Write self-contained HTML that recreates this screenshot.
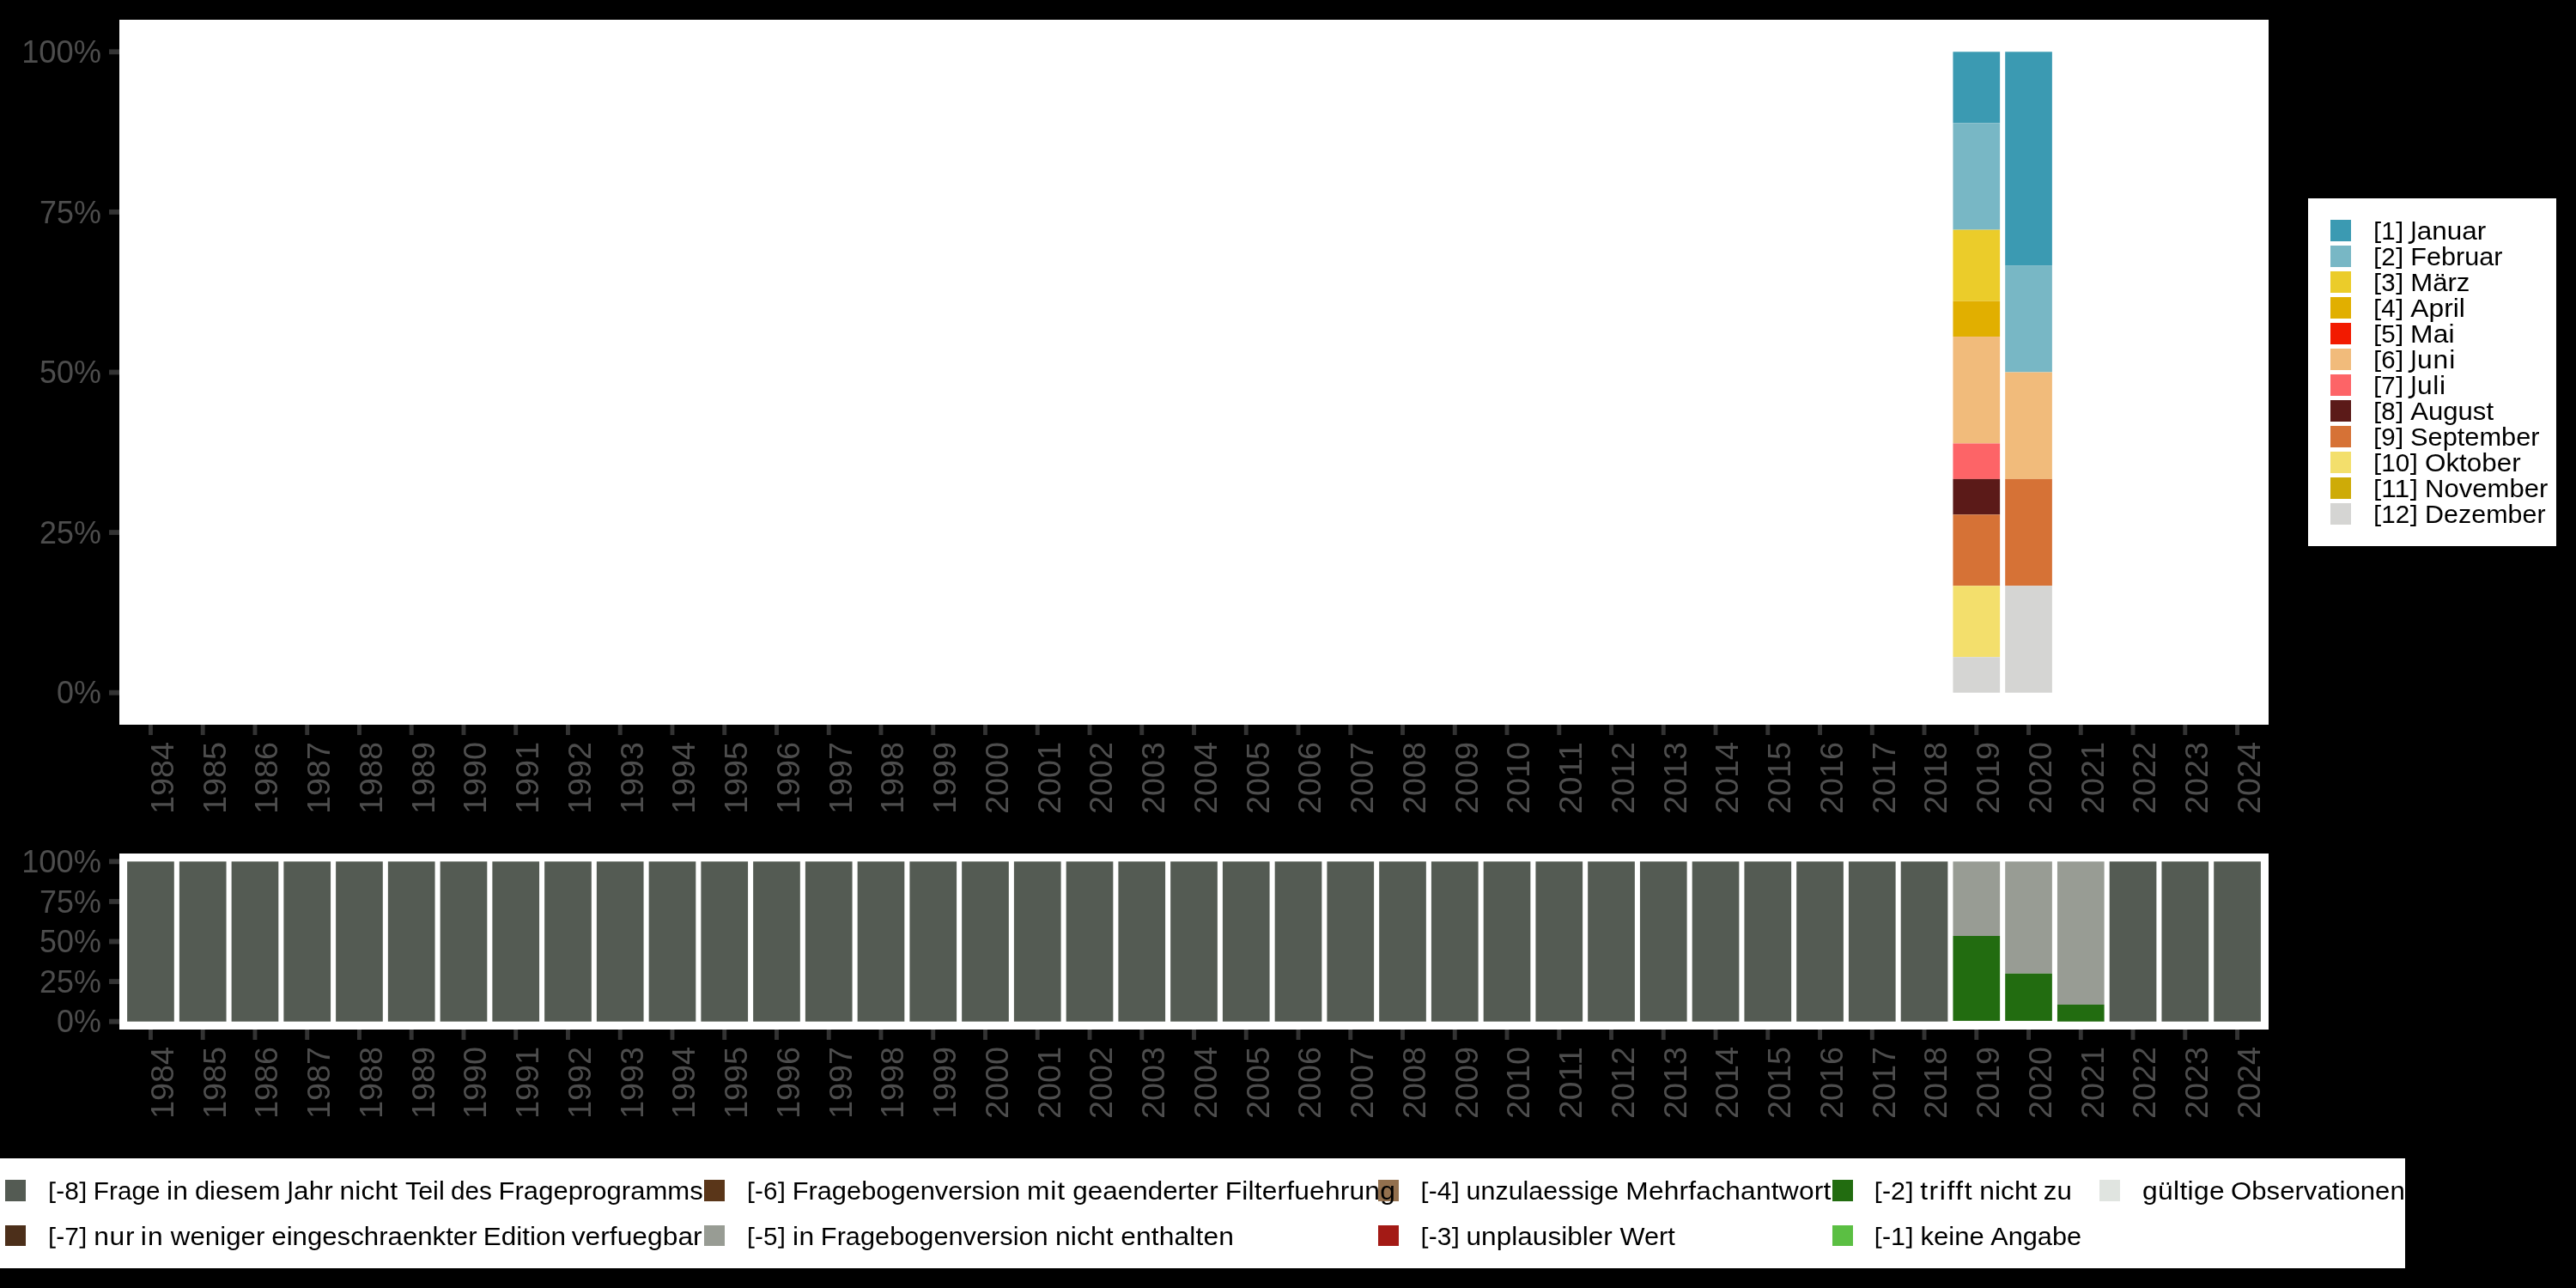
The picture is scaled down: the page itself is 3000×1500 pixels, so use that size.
<!DOCTYPE html>
<html><head><meta charset="utf-8"><title>chart</title>
<style>html,body{margin:0;padding:0;background:#000;overflow:hidden;}svg{display:block;will-change:transform}text{font-family:"Liberation Sans",sans-serif;}</style></head><body>
<svg width="3000" height="1500" viewBox="0 0 3000 1500">
<rect x="0" y="0" width="3000" height="1500" fill="#000"/>
<rect x="139" y="23" width="2503" height="821" fill="#fff"/>
<rect x="139" y="994" width="2503" height="205" fill="#fff"/>
<rect x="2274.45" y="60.32" width="54.68" height="82.93" fill="#3B9AB2"/>
<rect x="2274.45" y="143.25" width="54.68" height="124.39" fill="#78B7C5"/>
<rect x="2274.45" y="267.64" width="54.68" height="82.93" fill="#EBCC2A"/>
<rect x="2274.45" y="350.57" width="54.68" height="41.46" fill="#E1AF00"/>
<rect x="2274.45" y="392.04" width="54.68" height="124.39" fill="#F1BB7B"/>
<rect x="2274.45" y="516.43" width="54.68" height="41.46" fill="#FD6467"/>
<rect x="2274.45" y="557.89" width="54.68" height="41.46" fill="#5B1A18"/>
<rect x="2274.45" y="599.36" width="54.68" height="82.93" fill="#D67236"/>
<rect x="2274.45" y="682.29" width="54.68" height="82.93" fill="#F3DF6C"/>
<rect x="2274.45" y="765.22" width="54.68" height="41.46" fill="#D5D5D3"/>
<rect x="2335.20" y="60.32" width="54.68" height="248.79" fill="#3B9AB2"/>
<rect x="2335.20" y="309.11" width="54.68" height="124.39" fill="#78B7C5"/>
<rect x="2335.20" y="433.50" width="54.68" height="124.39" fill="#F1BB7B"/>
<rect x="2335.20" y="557.89" width="54.68" height="124.39" fill="#D67236"/>
<rect x="2335.20" y="682.29" width="54.68" height="124.39" fill="#D5D5D3"/>
<rect x="148.11" y="1003.32" width="54.68" height="186.36" fill="#545B53"/>
<rect x="208.87" y="1003.32" width="54.68" height="186.36" fill="#545B53"/>
<rect x="269.62" y="1003.32" width="54.68" height="186.36" fill="#545B53"/>
<rect x="330.37" y="1003.32" width="54.68" height="186.36" fill="#545B53"/>
<rect x="391.12" y="1003.32" width="54.68" height="186.36" fill="#545B53"/>
<rect x="451.87" y="1003.32" width="54.68" height="186.36" fill="#545B53"/>
<rect x="512.63" y="1003.32" width="54.68" height="186.36" fill="#545B53"/>
<rect x="573.38" y="1003.32" width="54.68" height="186.36" fill="#545B53"/>
<rect x="634.13" y="1003.32" width="54.68" height="186.36" fill="#545B53"/>
<rect x="694.88" y="1003.32" width="54.68" height="186.36" fill="#545B53"/>
<rect x="755.64" y="1003.32" width="54.68" height="186.36" fill="#545B53"/>
<rect x="816.39" y="1003.32" width="54.68" height="186.36" fill="#545B53"/>
<rect x="877.14" y="1003.32" width="54.68" height="186.36" fill="#545B53"/>
<rect x="937.89" y="1003.32" width="54.68" height="186.36" fill="#545B53"/>
<rect x="998.65" y="1003.32" width="54.68" height="186.36" fill="#545B53"/>
<rect x="1059.40" y="1003.32" width="54.68" height="186.36" fill="#545B53"/>
<rect x="1120.15" y="1003.32" width="54.68" height="186.36" fill="#545B53"/>
<rect x="1180.90" y="1003.32" width="54.68" height="186.36" fill="#545B53"/>
<rect x="1241.66" y="1003.32" width="54.68" height="186.36" fill="#545B53"/>
<rect x="1302.41" y="1003.32" width="54.68" height="186.36" fill="#545B53"/>
<rect x="1363.16" y="1003.32" width="54.68" height="186.36" fill="#545B53"/>
<rect x="1423.91" y="1003.32" width="54.68" height="186.36" fill="#545B53"/>
<rect x="1484.67" y="1003.32" width="54.68" height="186.36" fill="#545B53"/>
<rect x="1545.42" y="1003.32" width="54.68" height="186.36" fill="#545B53"/>
<rect x="1606.17" y="1003.32" width="54.68" height="186.36" fill="#545B53"/>
<rect x="1666.92" y="1003.32" width="54.68" height="186.36" fill="#545B53"/>
<rect x="1727.68" y="1003.32" width="54.68" height="186.36" fill="#545B53"/>
<rect x="1788.43" y="1003.32" width="54.68" height="186.36" fill="#545B53"/>
<rect x="1849.18" y="1003.32" width="54.68" height="186.36" fill="#545B53"/>
<rect x="1909.93" y="1003.32" width="54.68" height="186.36" fill="#545B53"/>
<rect x="1970.69" y="1003.32" width="54.68" height="186.36" fill="#545B53"/>
<rect x="2031.44" y="1003.32" width="54.68" height="186.36" fill="#545B53"/>
<rect x="2092.19" y="1003.32" width="54.68" height="186.36" fill="#545B53"/>
<rect x="2152.94" y="1003.32" width="54.68" height="186.36" fill="#545B53"/>
<rect x="2213.70" y="1003.32" width="54.68" height="186.36" fill="#545B53"/>
<rect x="2274.45" y="1003.32" width="54.68" height="86.66" fill="#989C94"/>
<rect x="2274.45" y="1089.98" width="54.68" height="98.90" fill="#226C10"/>
<rect x="2335.20" y="1003.32" width="54.68" height="130.45" fill="#989C94"/>
<rect x="2335.20" y="1133.77" width="54.68" height="55.11" fill="#226C10"/>
<rect x="2395.95" y="1003.32" width="54.68" height="166.61" fill="#989C94"/>
<rect x="2395.95" y="1169.93" width="54.68" height="19.75" fill="#226C10"/>
<rect x="2456.71" y="1003.32" width="54.68" height="186.36" fill="#545B53"/>
<rect x="2517.46" y="1003.32" width="54.68" height="186.36" fill="#545B53"/>
<rect x="2578.21" y="1003.32" width="54.68" height="186.36" fill="#545B53"/>
<g stroke="#333333" stroke-width="5.9" fill="none">
<line x1="127" x2="139" y1="806.68" y2="806.68"/>
<line x1="127" x2="139" y1="1189.68" y2="1189.68"/>
<line x1="127" x2="139" y1="620.09" y2="620.09"/>
<line x1="127" x2="139" y1="1143.09" y2="1143.09"/>
<line x1="127" x2="139" y1="433.50" y2="433.50"/>
<line x1="127" x2="139" y1="1096.50" y2="1096.50"/>
<line x1="127" x2="139" y1="246.91" y2="246.91"/>
<line x1="127" x2="139" y1="1049.91" y2="1049.91"/>
<line x1="127" x2="139" y1="60.32" y2="60.32"/>
<line x1="127" x2="139" y1="1003.32" y2="1003.32"/>
</g>
<g stroke="#333333" stroke-width="4.9" fill="none">
<line x1="175.45" x2="175.45" y1="844" y2="856"/>
<line x1="175.45" x2="175.45" y1="1199" y2="1211"/>
<line x1="236.20" x2="236.20" y1="844" y2="856"/>
<line x1="236.20" x2="236.20" y1="1199" y2="1211"/>
<line x1="296.96" x2="296.96" y1="844" y2="856"/>
<line x1="296.96" x2="296.96" y1="1199" y2="1211"/>
<line x1="357.71" x2="357.71" y1="844" y2="856"/>
<line x1="357.71" x2="357.71" y1="1199" y2="1211"/>
<line x1="418.46" x2="418.46" y1="844" y2="856"/>
<line x1="418.46" x2="418.46" y1="1199" y2="1211"/>
<line x1="479.21" x2="479.21" y1="844" y2="856"/>
<line x1="479.21" x2="479.21" y1="1199" y2="1211"/>
<line x1="539.97" x2="539.97" y1="844" y2="856"/>
<line x1="539.97" x2="539.97" y1="1199" y2="1211"/>
<line x1="600.72" x2="600.72" y1="844" y2="856"/>
<line x1="600.72" x2="600.72" y1="1199" y2="1211"/>
<line x1="661.47" x2="661.47" y1="844" y2="856"/>
<line x1="661.47" x2="661.47" y1="1199" y2="1211"/>
<line x1="722.22" x2="722.22" y1="844" y2="856"/>
<line x1="722.22" x2="722.22" y1="1199" y2="1211"/>
<line x1="782.98" x2="782.98" y1="844" y2="856"/>
<line x1="782.98" x2="782.98" y1="1199" y2="1211"/>
<line x1="843.73" x2="843.73" y1="844" y2="856"/>
<line x1="843.73" x2="843.73" y1="1199" y2="1211"/>
<line x1="904.48" x2="904.48" y1="844" y2="856"/>
<line x1="904.48" x2="904.48" y1="1199" y2="1211"/>
<line x1="965.23" x2="965.23" y1="844" y2="856"/>
<line x1="965.23" x2="965.23" y1="1199" y2="1211"/>
<line x1="1025.99" x2="1025.99" y1="844" y2="856"/>
<line x1="1025.99" x2="1025.99" y1="1199" y2="1211"/>
<line x1="1086.74" x2="1086.74" y1="844" y2="856"/>
<line x1="1086.74" x2="1086.74" y1="1199" y2="1211"/>
<line x1="1147.49" x2="1147.49" y1="844" y2="856"/>
<line x1="1147.49" x2="1147.49" y1="1199" y2="1211"/>
<line x1="1208.24" x2="1208.24" y1="844" y2="856"/>
<line x1="1208.24" x2="1208.24" y1="1199" y2="1211"/>
<line x1="1269.00" x2="1269.00" y1="844" y2="856"/>
<line x1="1269.00" x2="1269.00" y1="1199" y2="1211"/>
<line x1="1329.75" x2="1329.75" y1="844" y2="856"/>
<line x1="1329.75" x2="1329.75" y1="1199" y2="1211"/>
<line x1="1390.50" x2="1390.50" y1="844" y2="856"/>
<line x1="1390.50" x2="1390.50" y1="1199" y2="1211"/>
<line x1="1451.25" x2="1451.25" y1="844" y2="856"/>
<line x1="1451.25" x2="1451.25" y1="1199" y2="1211"/>
<line x1="1512.00" x2="1512.00" y1="844" y2="856"/>
<line x1="1512.00" x2="1512.00" y1="1199" y2="1211"/>
<line x1="1572.76" x2="1572.76" y1="844" y2="856"/>
<line x1="1572.76" x2="1572.76" y1="1199" y2="1211"/>
<line x1="1633.51" x2="1633.51" y1="844" y2="856"/>
<line x1="1633.51" x2="1633.51" y1="1199" y2="1211"/>
<line x1="1694.26" x2="1694.26" y1="844" y2="856"/>
<line x1="1694.26" x2="1694.26" y1="1199" y2="1211"/>
<line x1="1755.01" x2="1755.01" y1="844" y2="856"/>
<line x1="1755.01" x2="1755.01" y1="1199" y2="1211"/>
<line x1="1815.77" x2="1815.77" y1="844" y2="856"/>
<line x1="1815.77" x2="1815.77" y1="1199" y2="1211"/>
<line x1="1876.52" x2="1876.52" y1="844" y2="856"/>
<line x1="1876.52" x2="1876.52" y1="1199" y2="1211"/>
<line x1="1937.27" x2="1937.27" y1="844" y2="856"/>
<line x1="1937.27" x2="1937.27" y1="1199" y2="1211"/>
<line x1="1998.02" x2="1998.02" y1="844" y2="856"/>
<line x1="1998.02" x2="1998.02" y1="1199" y2="1211"/>
<line x1="2058.78" x2="2058.78" y1="844" y2="856"/>
<line x1="2058.78" x2="2058.78" y1="1199" y2="1211"/>
<line x1="2119.53" x2="2119.53" y1="844" y2="856"/>
<line x1="2119.53" x2="2119.53" y1="1199" y2="1211"/>
<line x1="2180.28" x2="2180.28" y1="844" y2="856"/>
<line x1="2180.28" x2="2180.28" y1="1199" y2="1211"/>
<line x1="2241.03" x2="2241.03" y1="844" y2="856"/>
<line x1="2241.03" x2="2241.03" y1="1199" y2="1211"/>
<line x1="2301.79" x2="2301.79" y1="844" y2="856"/>
<line x1="2301.79" x2="2301.79" y1="1199" y2="1211"/>
<line x1="2362.54" x2="2362.54" y1="844" y2="856"/>
<line x1="2362.54" x2="2362.54" y1="1199" y2="1211"/>
<line x1="2423.29" x2="2423.29" y1="844" y2="856"/>
<line x1="2423.29" x2="2423.29" y1="1199" y2="1211"/>
<line x1="2484.04" x2="2484.04" y1="844" y2="856"/>
<line x1="2484.04" x2="2484.04" y1="1199" y2="1211"/>
<line x1="2544.80" x2="2544.80" y1="844" y2="856"/>
<line x1="2544.80" x2="2544.80" y1="1199" y2="1211"/>
<line x1="2605.55" x2="2605.55" y1="844" y2="856"/>
<line x1="2605.55" x2="2605.55" y1="1199" y2="1211"/>
</g>
<g fill="#4D4D4D" font-size="36.67px" text-anchor="end">
<text x="118" y="819.28" textLength="51.9" lengthAdjust="spacingAndGlyphs">0%</text>
<text x="118" y="1202.28" textLength="51.9" lengthAdjust="spacingAndGlyphs">0%</text>
<text x="118" y="632.69" textLength="71.9" lengthAdjust="spacingAndGlyphs">25%</text>
<text x="118" y="1155.69" textLength="71.9" lengthAdjust="spacingAndGlyphs">25%</text>
<text x="118" y="446.10" textLength="71.9" lengthAdjust="spacingAndGlyphs">50%</text>
<text x="118" y="1109.10" textLength="71.9" lengthAdjust="spacingAndGlyphs">50%</text>
<text x="118" y="259.51" textLength="71.9" lengthAdjust="spacingAndGlyphs">75%</text>
<text x="118" y="1062.51" textLength="71.9" lengthAdjust="spacingAndGlyphs">75%</text>
<text x="118" y="72.92" textLength="92.8" lengthAdjust="spacingAndGlyphs">100%</text>
<text x="118" y="1015.92" textLength="92.8" lengthAdjust="spacingAndGlyphs">100%</text>
<text transform="translate(201.75,864.00) rotate(-90)" textLength="83.9" lengthAdjust="spacingAndGlyphs">1984</text>
<text transform="translate(201.75,1219.00) rotate(-90)" textLength="83.9" lengthAdjust="spacingAndGlyphs">1984</text>
<text transform="translate(262.50,864.00) rotate(-90)" textLength="83.9" lengthAdjust="spacingAndGlyphs">1985</text>
<text transform="translate(262.50,1219.00) rotate(-90)" textLength="83.9" lengthAdjust="spacingAndGlyphs">1985</text>
<text transform="translate(323.26,864.00) rotate(-90)" textLength="83.9" lengthAdjust="spacingAndGlyphs">1986</text>
<text transform="translate(323.26,1219.00) rotate(-90)" textLength="83.9" lengthAdjust="spacingAndGlyphs">1986</text>
<text transform="translate(384.01,864.00) rotate(-90)" textLength="83.9" lengthAdjust="spacingAndGlyphs">1987</text>
<text transform="translate(384.01,1219.00) rotate(-90)" textLength="83.9" lengthAdjust="spacingAndGlyphs">1987</text>
<text transform="translate(444.76,864.00) rotate(-90)" textLength="83.9" lengthAdjust="spacingAndGlyphs">1988</text>
<text transform="translate(444.76,1219.00) rotate(-90)" textLength="83.9" lengthAdjust="spacingAndGlyphs">1988</text>
<text transform="translate(505.51,864.00) rotate(-90)" textLength="83.9" lengthAdjust="spacingAndGlyphs">1989</text>
<text transform="translate(505.51,1219.00) rotate(-90)" textLength="83.9" lengthAdjust="spacingAndGlyphs">1989</text>
<text transform="translate(566.27,864.00) rotate(-90)" textLength="83.9" lengthAdjust="spacingAndGlyphs">1990</text>
<text transform="translate(566.27,1219.00) rotate(-90)" textLength="83.9" lengthAdjust="spacingAndGlyphs">1990</text>
<text transform="translate(627.02,864.00) rotate(-90)" textLength="83.9" lengthAdjust="spacingAndGlyphs">1991</text>
<text transform="translate(627.02,1219.00) rotate(-90)" textLength="83.9" lengthAdjust="spacingAndGlyphs">1991</text>
<text transform="translate(687.77,864.00) rotate(-90)" textLength="83.9" lengthAdjust="spacingAndGlyphs">1992</text>
<text transform="translate(687.77,1219.00) rotate(-90)" textLength="83.9" lengthAdjust="spacingAndGlyphs">1992</text>
<text transform="translate(748.52,864.00) rotate(-90)" textLength="83.9" lengthAdjust="spacingAndGlyphs">1993</text>
<text transform="translate(748.52,1219.00) rotate(-90)" textLength="83.9" lengthAdjust="spacingAndGlyphs">1993</text>
<text transform="translate(809.28,864.00) rotate(-90)" textLength="83.9" lengthAdjust="spacingAndGlyphs">1994</text>
<text transform="translate(809.28,1219.00) rotate(-90)" textLength="83.9" lengthAdjust="spacingAndGlyphs">1994</text>
<text transform="translate(870.03,864.00) rotate(-90)" textLength="83.9" lengthAdjust="spacingAndGlyphs">1995</text>
<text transform="translate(870.03,1219.00) rotate(-90)" textLength="83.9" lengthAdjust="spacingAndGlyphs">1995</text>
<text transform="translate(930.78,864.00) rotate(-90)" textLength="83.9" lengthAdjust="spacingAndGlyphs">1996</text>
<text transform="translate(930.78,1219.00) rotate(-90)" textLength="83.9" lengthAdjust="spacingAndGlyphs">1996</text>
<text transform="translate(991.53,864.00) rotate(-90)" textLength="83.9" lengthAdjust="spacingAndGlyphs">1997</text>
<text transform="translate(991.53,1219.00) rotate(-90)" textLength="83.9" lengthAdjust="spacingAndGlyphs">1997</text>
<text transform="translate(1052.29,864.00) rotate(-90)" textLength="83.9" lengthAdjust="spacingAndGlyphs">1998</text>
<text transform="translate(1052.29,1219.00) rotate(-90)" textLength="83.9" lengthAdjust="spacingAndGlyphs">1998</text>
<text transform="translate(1113.04,864.00) rotate(-90)" textLength="83.9" lengthAdjust="spacingAndGlyphs">1999</text>
<text transform="translate(1113.04,1219.00) rotate(-90)" textLength="83.9" lengthAdjust="spacingAndGlyphs">1999</text>
<text transform="translate(1173.79,864.00) rotate(-90)" textLength="83.9" lengthAdjust="spacingAndGlyphs">2000</text>
<text transform="translate(1173.79,1219.00) rotate(-90)" textLength="83.9" lengthAdjust="spacingAndGlyphs">2000</text>
<text transform="translate(1234.54,864.00) rotate(-90)" textLength="83.9" lengthAdjust="spacingAndGlyphs">2001</text>
<text transform="translate(1234.54,1219.00) rotate(-90)" textLength="83.9" lengthAdjust="spacingAndGlyphs">2001</text>
<text transform="translate(1295.30,864.00) rotate(-90)" textLength="83.9" lengthAdjust="spacingAndGlyphs">2002</text>
<text transform="translate(1295.30,1219.00) rotate(-90)" textLength="83.9" lengthAdjust="spacingAndGlyphs">2002</text>
<text transform="translate(1356.05,864.00) rotate(-90)" textLength="83.9" lengthAdjust="spacingAndGlyphs">2003</text>
<text transform="translate(1356.05,1219.00) rotate(-90)" textLength="83.9" lengthAdjust="spacingAndGlyphs">2003</text>
<text transform="translate(1416.80,864.00) rotate(-90)" textLength="83.9" lengthAdjust="spacingAndGlyphs">2004</text>
<text transform="translate(1416.80,1219.00) rotate(-90)" textLength="83.9" lengthAdjust="spacingAndGlyphs">2004</text>
<text transform="translate(1477.55,864.00) rotate(-90)" textLength="83.9" lengthAdjust="spacingAndGlyphs">2005</text>
<text transform="translate(1477.55,1219.00) rotate(-90)" textLength="83.9" lengthAdjust="spacingAndGlyphs">2005</text>
<text transform="translate(1538.30,864.00) rotate(-90)" textLength="83.9" lengthAdjust="spacingAndGlyphs">2006</text>
<text transform="translate(1538.30,1219.00) rotate(-90)" textLength="83.9" lengthAdjust="spacingAndGlyphs">2006</text>
<text transform="translate(1599.06,864.00) rotate(-90)" textLength="83.9" lengthAdjust="spacingAndGlyphs">2007</text>
<text transform="translate(1599.06,1219.00) rotate(-90)" textLength="83.9" lengthAdjust="spacingAndGlyphs">2007</text>
<text transform="translate(1659.81,864.00) rotate(-90)" textLength="83.9" lengthAdjust="spacingAndGlyphs">2008</text>
<text transform="translate(1659.81,1219.00) rotate(-90)" textLength="83.9" lengthAdjust="spacingAndGlyphs">2008</text>
<text transform="translate(1720.56,864.00) rotate(-90)" textLength="83.9" lengthAdjust="spacingAndGlyphs">2009</text>
<text transform="translate(1720.56,1219.00) rotate(-90)" textLength="83.9" lengthAdjust="spacingAndGlyphs">2009</text>
<text transform="translate(1781.31,864.00) rotate(-90)" textLength="83.9" lengthAdjust="spacingAndGlyphs">2010</text>
<text transform="translate(1781.31,1219.00) rotate(-90)" textLength="83.9" lengthAdjust="spacingAndGlyphs">2010</text>
<text transform="translate(1842.07,864.00) rotate(-90)" textLength="83.9" lengthAdjust="spacingAndGlyphs">2011</text>
<text transform="translate(1842.07,1219.00) rotate(-90)" textLength="83.9" lengthAdjust="spacingAndGlyphs">2011</text>
<text transform="translate(1902.82,864.00) rotate(-90)" textLength="83.9" lengthAdjust="spacingAndGlyphs">2012</text>
<text transform="translate(1902.82,1219.00) rotate(-90)" textLength="83.9" lengthAdjust="spacingAndGlyphs">2012</text>
<text transform="translate(1963.57,864.00) rotate(-90)" textLength="83.9" lengthAdjust="spacingAndGlyphs">2013</text>
<text transform="translate(1963.57,1219.00) rotate(-90)" textLength="83.9" lengthAdjust="spacingAndGlyphs">2013</text>
<text transform="translate(2024.32,864.00) rotate(-90)" textLength="83.9" lengthAdjust="spacingAndGlyphs">2014</text>
<text transform="translate(2024.32,1219.00) rotate(-90)" textLength="83.9" lengthAdjust="spacingAndGlyphs">2014</text>
<text transform="translate(2085.08,864.00) rotate(-90)" textLength="83.9" lengthAdjust="spacingAndGlyphs">2015</text>
<text transform="translate(2085.08,1219.00) rotate(-90)" textLength="83.9" lengthAdjust="spacingAndGlyphs">2015</text>
<text transform="translate(2145.83,864.00) rotate(-90)" textLength="83.9" lengthAdjust="spacingAndGlyphs">2016</text>
<text transform="translate(2145.83,1219.00) rotate(-90)" textLength="83.9" lengthAdjust="spacingAndGlyphs">2016</text>
<text transform="translate(2206.58,864.00) rotate(-90)" textLength="83.9" lengthAdjust="spacingAndGlyphs">2017</text>
<text transform="translate(2206.58,1219.00) rotate(-90)" textLength="83.9" lengthAdjust="spacingAndGlyphs">2017</text>
<text transform="translate(2267.33,864.00) rotate(-90)" textLength="83.9" lengthAdjust="spacingAndGlyphs">2018</text>
<text transform="translate(2267.33,1219.00) rotate(-90)" textLength="83.9" lengthAdjust="spacingAndGlyphs">2018</text>
<text transform="translate(2328.09,864.00) rotate(-90)" textLength="83.9" lengthAdjust="spacingAndGlyphs">2019</text>
<text transform="translate(2328.09,1219.00) rotate(-90)" textLength="83.9" lengthAdjust="spacingAndGlyphs">2019</text>
<text transform="translate(2388.84,864.00) rotate(-90)" textLength="83.9" lengthAdjust="spacingAndGlyphs">2020</text>
<text transform="translate(2388.84,1219.00) rotate(-90)" textLength="83.9" lengthAdjust="spacingAndGlyphs">2020</text>
<text transform="translate(2449.59,864.00) rotate(-90)" textLength="83.9" lengthAdjust="spacingAndGlyphs">2021</text>
<text transform="translate(2449.59,1219.00) rotate(-90)" textLength="83.9" lengthAdjust="spacingAndGlyphs">2021</text>
<text transform="translate(2510.34,864.00) rotate(-90)" textLength="83.9" lengthAdjust="spacingAndGlyphs">2022</text>
<text transform="translate(2510.34,1219.00) rotate(-90)" textLength="83.9" lengthAdjust="spacingAndGlyphs">2022</text>
<text transform="translate(2571.10,864.00) rotate(-90)" textLength="83.9" lengthAdjust="spacingAndGlyphs">2023</text>
<text transform="translate(2571.10,1219.00) rotate(-90)" textLength="83.9" lengthAdjust="spacingAndGlyphs">2023</text>
<text transform="translate(2631.85,864.00) rotate(-90)" textLength="83.9" lengthAdjust="spacingAndGlyphs">2024</text>
<text transform="translate(2631.85,1219.00) rotate(-90)" textLength="83.9" lengthAdjust="spacingAndGlyphs">2024</text>
</g>
<rect x="2688" y="231" width="289" height="405" fill="#fff"/>
<g font-size="29.17px" fill="#000">
<rect x="2714" y="256" width="24" height="25" fill="#3B9AB2"/>
<path d="M2766.30,258.10h6.55v2.0h-4.10v20.90h4.10v2.0h-6.55z"/><path d="M2797.00,258.10h-6.55v2.0h4.10v20.90h-4.10v2.0h6.55z"/><text x="2773.30" y="278.90" textLength="16.40" lengthAdjust="spacingAndGlyphs">1</text><path d="M2811.00,258.00V277.90C2811.00,281.70 2808.80,282.70 2804.70,282.70" fill="none" stroke="#000" stroke-width="2.6"/><text x="2814.89" y="278.90" textLength="80.48" lengthAdjust="spacingAndGlyphs">anuar</text>
<rect x="2714" y="286" width="24" height="25" fill="#78B7C5"/>
<path d="M2766.30,288.10h6.55v2.0h-4.10v20.90h4.10v2.0h-6.55z"/><path d="M2797.00,288.10h-6.55v2.0h4.10v20.90h-4.10v2.0h6.55z"/><text x="2773.30" y="308.90" textLength="16.40" lengthAdjust="spacingAndGlyphs">2</text><text x="2807.27" y="308.90" textLength="107.24" lengthAdjust="spacingAndGlyphs">Februar</text>
<rect x="2714" y="316" width="24" height="25" fill="#EBCC2A"/>
<path d="M2766.30,318.10h6.55v2.0h-4.10v20.90h4.10v2.0h-6.55z"/><path d="M2797.00,318.10h-6.55v2.0h4.10v20.90h-4.10v2.0h6.55z"/><text x="2773.30" y="338.90" textLength="16.40" lengthAdjust="spacingAndGlyphs">3</text><text x="2807.23" y="338.90" textLength="69.19" lengthAdjust="spacingAndGlyphs">März</text>
<rect x="2714" y="346" width="24" height="25" fill="#E1AF00"/>
<path d="M2766.30,348.10h6.55v2.0h-4.10v20.90h4.10v2.0h-6.55z"/><path d="M2797.00,348.10h-6.55v2.0h4.10v20.90h-4.10v2.0h6.55z"/><text x="2773.30" y="368.90" textLength="16.40" lengthAdjust="spacingAndGlyphs">4</text><text x="2807.29" y="368.90" textLength="63.55" lengthAdjust="spacingAndGlyphs">April</text>
<rect x="2714" y="376" width="24" height="25" fill="#F21A00"/>
<path d="M2766.30,378.10h6.55v2.0h-4.10v20.90h4.10v2.0h-6.55z"/><path d="M2797.00,378.10h-6.55v2.0h4.10v20.90h-4.10v2.0h6.55z"/><text x="2773.30" y="398.90" textLength="16.40" lengthAdjust="spacingAndGlyphs">5</text><text transform="translate(2807.08,398.90) scale(1.0900,1)" textLength="47.23" lengthAdjust="spacing">Mai</text>
<rect x="2714" y="406" width="24" height="25" fill="#F1BB7B"/>
<path d="M2766.30,408.10h6.55v2.0h-4.10v20.90h4.10v2.0h-6.55z"/><path d="M2797.00,408.10h-6.55v2.0h4.10v20.90h-4.10v2.0h6.55z"/><text x="2773.30" y="428.90" textLength="16.40" lengthAdjust="spacingAndGlyphs">6</text><path d="M2811.00,408.00V427.90C2811.00,431.70 2808.80,432.70 2804.70,432.70" fill="none" stroke="#000" stroke-width="2.6"/><text transform="translate(2814.94,428.90) scale(1.0900,1)" textLength="40.78" lengthAdjust="spacing">uni</text>
<rect x="2714" y="436" width="24" height="25" fill="#FD6467"/>
<path d="M2766.30,438.10h6.55v2.0h-4.10v20.90h4.10v2.0h-6.55z"/><path d="M2797.00,438.10h-6.55v2.0h4.10v20.90h-4.10v2.0h6.55z"/><text x="2773.30" y="458.90" textLength="16.40" lengthAdjust="spacingAndGlyphs">7</text><path d="M2811.00,438.00V457.90C2811.00,461.70 2808.80,462.70 2804.70,462.70" fill="none" stroke="#000" stroke-width="2.6"/><text transform="translate(2814.94,458.90) scale(1.0900,1)" textLength="30.40" lengthAdjust="spacing">uli</text>
<rect x="2714" y="466" width="24" height="25" fill="#5B1A18"/>
<path d="M2766.30,468.10h6.55v2.0h-4.10v20.90h4.10v2.0h-6.55z"/><path d="M2797.00,468.10h-6.55v2.0h4.10v20.90h-4.10v2.0h6.55z"/><text x="2773.30" y="488.90" textLength="16.40" lengthAdjust="spacingAndGlyphs">8</text><text x="2807.19" y="488.90" textLength="96.87" lengthAdjust="spacingAndGlyphs">August</text>
<rect x="2714" y="496" width="24" height="25" fill="#D67236"/>
<path d="M2766.30,498.10h6.55v2.0h-4.10v20.90h4.10v2.0h-6.55z"/><path d="M2797.00,498.10h-6.55v2.0h4.10v20.90h-4.10v2.0h6.55z"/><text x="2773.30" y="518.90" textLength="16.40" lengthAdjust="spacingAndGlyphs">9</text><text x="2806.96" y="518.90" textLength="150.67" lengthAdjust="spacingAndGlyphs">September</text>
<rect x="2714" y="526" width="24" height="25" fill="#F3DF6C"/>
<path d="M2766.30,528.10h6.55v2.0h-4.10v20.90h4.10v2.0h-6.55z"/><path d="M2813.60,528.10h-6.55v2.0h4.10v20.90h-4.10v2.0h6.55z"/><text x="2773.30" y="548.90" textLength="33.00" lengthAdjust="spacingAndGlyphs">10</text><text x="2823.94" y="548.90" textLength="111.79" lengthAdjust="spacingAndGlyphs">Oktober</text>
<rect x="2714" y="556" width="24" height="25" fill="#CEAB07"/>
<path d="M2766.30,558.10h6.55v2.0h-4.10v20.90h4.10v2.0h-6.55z"/><path d="M2813.60,558.10h-6.55v2.0h4.10v20.90h-4.10v2.0h6.55z"/><text x="2773.30" y="578.90" textLength="33.00" lengthAdjust="spacingAndGlyphs">11</text><text x="2824.04" y="578.90" textLength="143.23" lengthAdjust="spacingAndGlyphs">November</text>
<rect x="2714" y="586" width="24" height="25" fill="#D5D5D3"/>
<path d="M2766.30,588.10h6.55v2.0h-4.10v20.90h4.10v2.0h-6.55z"/><path d="M2813.60,588.10h-6.55v2.0h4.10v20.90h-4.10v2.0h6.55z"/><text x="2773.30" y="608.90" textLength="33.00" lengthAdjust="spacingAndGlyphs">12</text><text x="2824.09" y="608.90" textLength="140.47" lengthAdjust="spacingAndGlyphs">Dezember</text>
</g>
<rect x="0" y="1349" width="2801" height="128" fill="#fff"/>
<g font-size="29.17px" fill="#000">
<rect x="6" y="1374" width="24" height="25" fill="#545B53"/>
<rect x="6" y="1427" width="24" height="24" fill="#4C2F1A"/>
<rect x="820" y="1374" width="24" height="25" fill="#5A3619"/>
<rect x="820" y="1427" width="24" height="24" fill="#989C94"/>
<rect x="1605" y="1374" width="24" height="25" fill="#93704E"/>
<rect x="1605" y="1427" width="24" height="24" fill="#A31A15"/>
<rect x="2134" y="1374" width="24" height="25" fill="#226C10"/>
<rect x="2134" y="1427" width="24" height="24" fill="#5BBF43"/>
<rect x="2445" y="1374" width="24" height="25" fill="#E0E4E0"/>
<path d="M58.20,1376.20h6.55v2.0h-4.10v20.90h4.10v2.0h-6.55z"/><path d="M99.10,1376.20h-6.55v2.0h4.10v20.90h-4.10v2.0h6.55z"/><text x="65.20" y="1397.00" textLength="26.60" lengthAdjust="spacingAndGlyphs">-8</text><text x="108.85" y="1397.00" textLength="77.60" lengthAdjust="spacingAndGlyphs">Frage</text><text transform="translate(194.07,1397.00) scale(1.0900,1)" textLength="22.84" lengthAdjust="spacing">in</text><text x="226.96" y="1397.00" textLength="99.54" lengthAdjust="spacingAndGlyphs">diesem</text><path d="M338.20,1376.10V1396.00C338.20,1399.80 336.00,1400.80 331.90,1400.80" fill="none" stroke="#000" stroke-width="2.6"/><text x="342.08" y="1397.00" textLength="45.69" lengthAdjust="spacingAndGlyphs">ahr</text><text transform="translate(395.56,1397.00) scale(1.0900,1)" textLength="61.99" lengthAdjust="spacing">nicht</text><text x="471.91" y="1397.00" textLength="45.77" lengthAdjust="spacingAndGlyphs">Teil</text><text x="525.01" y="1397.00" textLength="47.93" lengthAdjust="spacingAndGlyphs">des</text><text x="580.54" y="1397.00" textLength="238.27" lengthAdjust="spacingAndGlyphs">Frageprogramms</text>
<path d="M58.20,1428.90h6.55v2.0h-4.10v20.90h4.10v2.0h-6.55z"/><path d="M99.10,1428.90h-6.55v2.0h4.10v20.90h-4.10v2.0h6.55z"/><text x="65.20" y="1449.70" textLength="26.60" lengthAdjust="spacingAndGlyphs">-7</text><text transform="translate(109.16,1449.70) scale(1.0900,1)" textLength="43.50" lengthAdjust="spacing">nur</text><text transform="translate(163.77,1449.70) scale(1.0900,1)" textLength="23.76" lengthAdjust="spacing">in</text><text x="198.89" y="1449.70" textLength="109.45" lengthAdjust="spacingAndGlyphs">weniger</text><text x="316.29" y="1449.70" textLength="239.29" lengthAdjust="spacingAndGlyphs">eingeschraenkter</text><text x="562.80" y="1449.70" textLength="96.27" lengthAdjust="spacingAndGlyphs">Edition</text><text transform="translate(665.69,1449.70) scale(1.0900,1)" textLength="139.43" lengthAdjust="spacing">verfuegbar</text>
<path d="M872.10,1376.20h6.55v2.0h-4.10v20.90h4.10v2.0h-6.55z"/><path d="M912.70,1376.20h-6.55v2.0h4.10v20.90h-4.10v2.0h6.55z"/><text x="879.10" y="1397.00" textLength="26.30" lengthAdjust="spacingAndGlyphs">-6</text><text x="922.66" y="1397.00" textLength="265.46" lengthAdjust="spacingAndGlyphs">Fragebogenversion</text><text transform="translate(1196.06,1397.00) scale(1.0900,1)" textLength="40.29" lengthAdjust="spacing">mit</text><text x="1249.24" y="1397.00" textLength="169.55" lengthAdjust="spacingAndGlyphs">geaenderter</text><text transform="translate(1426.78,1397.00) scale(1.0900,1)" textLength="181.69" lengthAdjust="spacing">Filterfuehrung</text>
<path d="M872.10,1428.90h6.55v2.0h-4.10v20.90h4.10v2.0h-6.55z"/><path d="M912.70,1428.90h-6.55v2.0h4.10v20.90h-4.10v2.0h6.55z"/><text x="879.10" y="1449.70" textLength="26.30" lengthAdjust="spacingAndGlyphs">-5</text><text transform="translate(923.07,1449.70) scale(1.0900,1)" textLength="23.02" lengthAdjust="spacing">in</text><text x="955.87" y="1449.70" textLength="264.85" lengthAdjust="spacingAndGlyphs">Fragebogenversion</text><text transform="translate(1229.06,1449.70) scale(1.0900,1)" textLength="61.99" lengthAdjust="spacing">nicht</text><text transform="translate(1305.27,1449.70) scale(1.0900,1)" textLength="120.83" lengthAdjust="spacing">enthalten</text>
<path d="M1656.70,1376.20h6.55v2.0h-4.10v20.90h4.10v2.0h-6.55z"/><path d="M1697.60,1376.20h-6.55v2.0h4.10v20.90h-4.10v2.0h6.55z"/><text x="1663.70" y="1397.00" textLength="26.60" lengthAdjust="spacingAndGlyphs">-4</text><text x="1707.63" y="1397.00" textLength="177.59" lengthAdjust="spacingAndGlyphs">unzulaessige</text><text transform="translate(1893.28,1397.00) scale(1.0900,1)" textLength="219.30" lengthAdjust="spacing">Mehrfachantwort</text>
<path d="M1656.70,1428.90h6.55v2.0h-4.10v20.90h4.10v2.0h-6.55z"/><path d="M1697.60,1428.90h-6.55v2.0h4.10v20.90h-4.10v2.0h6.55z"/><text x="1663.70" y="1449.70" textLength="26.60" lengthAdjust="spacingAndGlyphs">-3</text><text x="1707.55" y="1449.70" textLength="170.32" lengthAdjust="spacingAndGlyphs">unplausibler</text><text x="1886.59" y="1449.70" textLength="64.27" lengthAdjust="spacingAndGlyphs">Wert</text>
<path d="M2184.90,1376.20h6.55v2.0h-4.10v20.90h4.10v2.0h-6.55z"/><path d="M2226.30,1376.20h-6.55v2.0h4.10v20.90h-4.10v2.0h6.55z"/><text x="2191.90" y="1397.00" textLength="27.10" lengthAdjust="spacingAndGlyphs">-2</text><text transform="translate(2236.21,1397.00) scale(1.0900,1)" textLength="55.32" lengthAdjust="spacing">trifft</text><text x="2305.36" y="1397.00" textLength="67.07" lengthAdjust="spacingAndGlyphs">nicht</text><text x="2379.80" y="1397.00" textLength="33.03" lengthAdjust="spacingAndGlyphs">zu</text>
<path d="M2184.90,1428.90h6.55v2.0h-4.10v20.90h4.10v2.0h-6.55z"/><path d="M2226.30,1428.90h-6.55v2.0h4.10v20.90h-4.10v2.0h6.55z"/><text x="2191.90" y="1449.70" textLength="27.10" lengthAdjust="spacingAndGlyphs">-1</text><text x="2236.50" y="1449.70" textLength="74.33" lengthAdjust="spacingAndGlyphs">keine</text><text x="2318.20" y="1449.70" textLength="105.89" lengthAdjust="spacingAndGlyphs">Angabe</text>
<text transform="translate(2495.03,1397.00) scale(1.0900,1)" textLength="87.72" lengthAdjust="spacing">gültige</text><text x="2597.96" y="1397.00" textLength="202.80" lengthAdjust="spacingAndGlyphs">Observationen</text>
</g>
</svg></body></html>
